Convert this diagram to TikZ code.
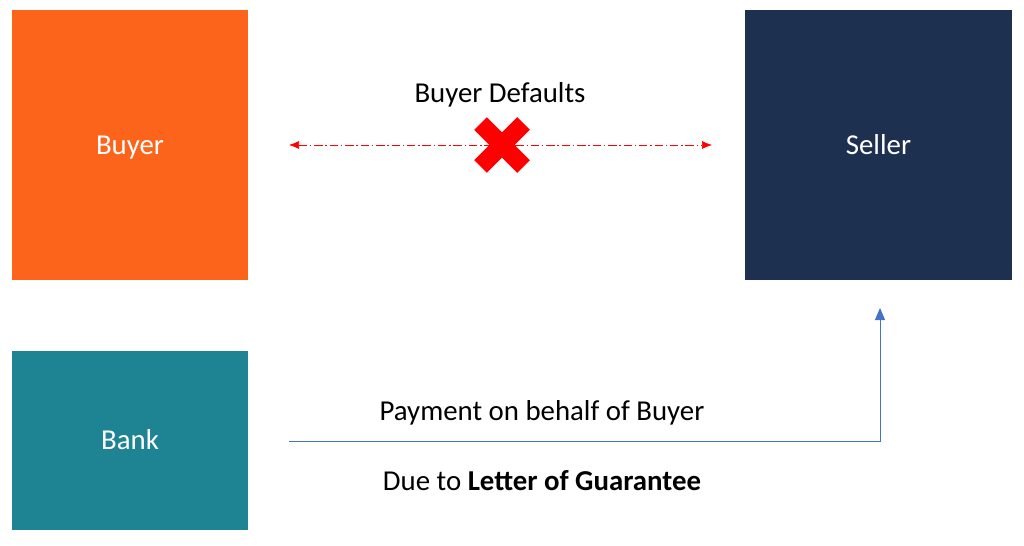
\documentclass[tikz,border=0pt]{standalone}
\usepackage{fontspec}
\setmainfont{Carlito}
\usetikzlibrary{arrows.meta, positioning, calc}

\definecolor{buyerorange}{HTML}{FC641C}
\definecolor{sellernavy}{HTML}{1E3050}
\definecolor{bankteal}{HTML}{1E8494}
\definecolor{paylink}{HTML}{4472C4}

\tikzset{
  party/.style={inner sep=0pt, text=white, text height=13.2pt, text depth=0pt,
    font=\fontsize{20.5}{24}\selectfont},
  caption/.style={inner sep=0pt, anchor=base, font=\fontsize{20.5}{24}\selectfont}
}

\begin{document}
\begin{tikzpicture}[x=0.025cm, y=-0.025cm]
  \useasboundingbox (0,0) rectangle (1024,545);

  % Parties
  \node[party, fill=buyerorange, minimum width=5.9cm, minimum height=6.75cm] (buyer) at (130,145) {Buyer};
  \node[party, fill=sellernavy, minimum width=6.675cm, minimum height=6.75cm] (seller) at (878.5,145) {Seller};
  \node[party, fill=bankteal, minimum width=5.9cm, minimum height=4.475cm] (bank) at (130,440.5) {Bank};

  % Broken deal between buyer and seller
  \coordinate (dealL) at (289,145);
  \coordinate (dealR) at (712,145);
  \draw[red, dash pattern=on 6pt off 2pt on 1pt off 2pt, {Latex[length=2.5mm,width=2mm]}-{Latex[length=2.5mm,width=2mm]}] (dealL) -- (dealR);
  \node[caption] (defaults) at (500,102) {Buyer Defaults};
  \coordinate (cross) at (502,145);
  \draw[red, line width=0.45cm] ($(cross)+(-21.5,-21.5)$) -- ($(cross)+(21.5,21.5)$);
  \draw[red, line width=0.45cm] ($(cross)+(-21.5,21.5)$) -- ($(cross)+(21.5,-21.5)$);

  % Payment from bank to seller
  \coordinate (payStart) at (289,441);
  \coordinate (payEnd) at (880,308);
  \draw[paylink, line width=0.7pt, -{Triangle[length=3mm,width=2.5mm]}] (payStart) -| (payEnd);
  \node[caption] (payment) at (542,420) {Payment on behalf of Buyer};
  \node[caption] (reason) at (542,490) {Due to \textbf{Letter of Guarantee}};
\end{tikzpicture}
\end{document}
